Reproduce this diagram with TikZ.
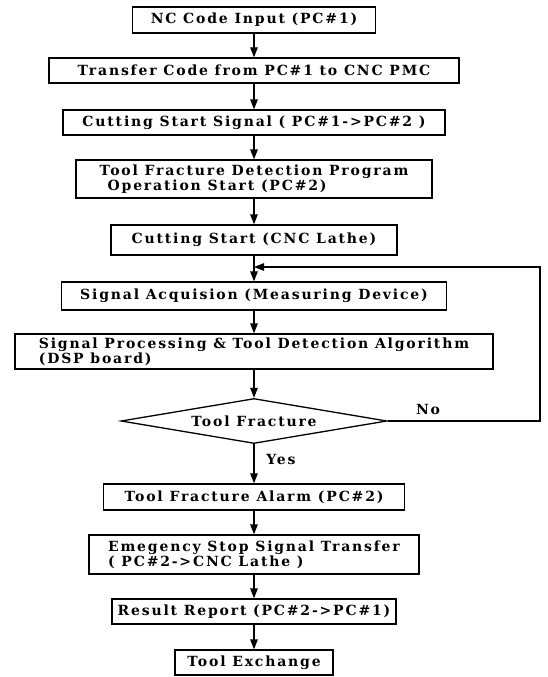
\documentclass[tikz,border=0pt]{standalone}
\usepackage{fontspec}
\setmainfont{DejaVu Serif}[LetterSpace=13]
\usetikzlibrary{shapes.geometric,arrows.meta}

\begin{document}
\begin{tikzpicture}[x=1pt,y=-1pt,>={Triangle[length=10pt,width=7.5pt]},
  stage/.style={draw,line width=1.3pt,inner sep=0pt,align=left,font=\bfseries\fontsize{14}{12.5}\selectfont},
  lbl/.style={inner sep=0pt,font=\bfseries\fontsize{14}{12.5}\selectfont},
  flow/.style={->,line width=1.3pt}]
\useasboundingbox (0,0) rectangle (547,677);
\node[stage,minimum width=243,minimum height=26] (input) at (254,20) {NC Code Input (PC\#1)};
\node[stage,minimum width=410,minimum height=25] (xfer) at (254,70.5) {Transfer Code from PC\#1 to CNC PMC};
\node[stage,minimum width=382,minimum height=25] (sig) at (254,122.5) {Cutting Start Signal ( PC\#1->PC\#2 )};
\node[stage,minimum width=356,minimum height=38] (prog) at (254,179) {Tool Fracture Detection Program\\\hspace{8pt}Operation Start (PC\#2)};
\node[stage,minimum width=286,minimum height=30] (cut) at (254,240) {Cutting Start (CNC Lathe)};
\node[stage,minimum width=385,minimum height=28] (acq) at (254,296) {Signal Acquision (Measuring Device)};
\node[stage,minimum width=478,minimum height=35] (dsp) at (254,351.5) {Signal Processing \& Tool Detection Algorithm\\(DSP board)};
\node[draw,diamond,line width=1.3pt,aspect=6,inner sep=0pt,minimum width=266,minimum height=45,font=\bfseries\fontsize{14}{12.5}\selectfont] (check) at (254,421) {Tool Fracture};
\node[stage,minimum width=301,minimum height=26] (alarm) at (254,497) {Tool Fracture Alarm (PC\#2)};
\node[stage,minimum width=330,minimum height=39] (estop) at (254,554.5) {Emegency Stop Signal Transfer\\( PC\#2->CNC Lathe )};
\node[stage,minimum width=284,minimum height=25] (report) at (254,611.5) {Result Report (PC\#2->PC\#1)};
\node[stage,minimum width=158,minimum height=25] (swap) at (254,662.5) {Tool Exchange};
\node[lbl] (no) at (428,409) {No};
\node[lbl] (yes) at (281,459) {Yes};
\coordinate (merge) at (254,267);
\coordinate (loopR) at (540,421);
% main line
\draw[flow] (input) -- (xfer);
\draw[flow] (xfer) -- (sig);
\draw[flow] (sig) -- (prog);
\draw[flow] (prog) -- (cut);
\draw[flow] (cut) -- (acq);
\draw[flow] (acq) -- (dsp);
\draw[flow] (dsp) -- (check);
\draw[flow] (check) -- (alarm);
\draw[flow] (alarm) -- (estop);
\draw[flow] (estop) -- (report);
\draw[flow] (report) -- (swap);
% loop back on No
\draw[flow] (check.east) -- (loopR) |- (merge);
\end{tikzpicture}
\end{document}
